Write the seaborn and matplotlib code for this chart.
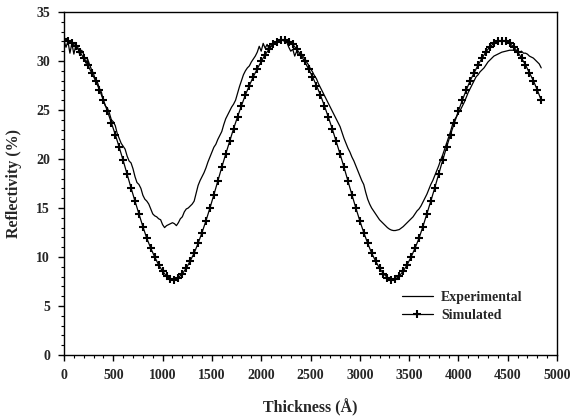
import matplotlib
matplotlib.use("Agg")
import matplotlib.pyplot as plt
import pandas as pd
import seaborn as sns
from matplotlib.ticker import MultipleLocator

# ---------------- data ----------------
exp_thickness = list(range(0, 4841, 20))  # measurement grid, Å
exp_reflectivity = [
    32.1, 31.4, 32.0, 30.8, 31.8, 30.7, 31.6, 31.4, 30.6, 31.1,
    30.7, 29.8, 30.2, 29.6, 29.1, 28.7, 28.0, 27.8, 27.2, 26.8,
    25.9, 25.4, 25.2, 24.7, 24.0, 23.8, 23.4, 22.6, 22.1, 21.6,
    21.3, 21.0, 20.3, 19.8, 19.6, 19.0, 18.2, 17.6, 17.4, 17.0,
    16.3, 15.9, 15.7, 15.4, 14.9, 14.4, 14.2, 14.1, 13.9, 13.8,
    13.3, 13.0, 13.2, 13.3, 13.4, 13.5, 13.4, 13.2, 13.5, 13.9,
    14.1, 14.6, 14.9, 15.0, 15.2, 15.4, 15.7, 16.5, 17.3, 17.8,
    18.2, 18.6, 19.1, 19.7, 20.2, 20.7, 21.2, 21.5, 22.0, 22.4,
    22.8, 23.5, 24.1, 24.5, 24.9, 25.3, 25.6, 26.0, 26.7, 27.4,
    28.0, 28.6, 29.0, 29.3, 29.5, 29.9, 30.2, 30.5, 30.9, 31.5,
    31.0, 31.8, 31.3, 31.7, 31.2, 31.6, 31.8, 31.9, 32.0, 32.1,
    32.2, 32.1, 32.0, 31.9, 31.4, 31.0, 31.2, 30.5, 31.0, 30.6,
    30.9, 30.5, 30.3, 29.9, 29.6, 29.2, 28.9, 28.5, 28.2, 27.7,
    27.3, 26.9, 26.5, 26.1, 25.7, 25.3, 24.9, 24.5, 24.1, 23.7,
    23.3, 22.7, 22.1, 21.6, 21.1, 20.7, 20.2, 19.8, 19.3, 18.8,
    18.3, 17.8, 17.4, 16.6, 15.9, 15.4, 15.0, 14.7, 14.4, 14.1,
    13.8, 13.6, 13.4, 13.2, 13.0, 12.85, 12.75, 12.7, 12.7, 12.75,
    12.8, 12.95, 13.1, 13.3, 13.5, 13.7, 13.9, 14.1, 14.4, 14.7,
    14.9, 15.2, 15.6, 16.0, 16.4, 16.9, 17.4, 17.8, 18.3, 18.8,
    19.3, 19.9, 20.4, 21.0, 21.6, 22.2, 22.8, 23.5, 24.0, 24.3,
    24.7, 25.0, 25.4, 25.8, 26.3, 26.8, 27.2, 27.6, 28.0, 28.4,
    28.6, 28.9, 29.1, 29.3, 29.6, 29.9, 30.1, 30.3, 30.5, 30.6,
    30.7, 30.8, 30.9, 30.95, 31.0, 31.05, 31.1, 31.1, 31.1, 31.05,
    31.0, 30.9, 31.0, 30.8, 30.8, 30.7, 30.5, 30.4, 30.3, 30.1,
    29.9, 29.7, 29.3,
]

sim_thickness = list(range(0, 4841, 40))  # simulation grid, Å
sim_reflectivity = [
    32.2, 32.05, 31.85, 31.5, 30.95, 30.3, 29.6, 28.8, 28.0, 27.05,
    26.0, 24.9, 23.7, 22.5, 21.2, 19.85, 18.45, 17.05, 15.7, 14.4,
    13.1, 11.9, 10.9, 10.0, 9.2, 8.55, 8.05, 7.75,
    7.66, 7.9, 8.3, 8.85, 9.6, 10.4, 11.4, 12.5, 13.7, 15.0,
    16.35, 17.75, 19.15, 20.5, 21.8, 23.1, 24.3, 25.45, 26.55, 27.5,
    28.4, 29.2, 29.95, 30.65, 31.2, 31.7, 31.95, 32.15,
    32.15, 31.95, 31.7, 31.2, 30.65, 29.95, 29.2, 28.4, 27.5, 26.55,
    25.45, 24.3, 23.1, 21.8, 20.5, 19.15, 17.75, 16.35, 15.0, 13.7,
    12.5, 11.4, 10.4, 9.6, 8.85, 8.3, 7.9, 7.66,
    7.75, 8.05, 8.55, 9.2, 10.0, 10.9, 11.9, 13.1, 14.4, 15.7,
    17.05, 18.45, 19.85, 21.2, 22.5, 23.7, 24.9, 26.0, 27.05, 28.0,
    28.8, 29.6, 30.3, 30.95, 31.45, 31.8, 32.0, 32.05,
    32.0, 31.8, 31.45, 30.95, 30.3, 29.6, 28.8, 28.0, 27.05, 26.0,
]

series_labels = ["Experimental", "Simulated"]
x_label = "Thickness (Å)"
y_label = "Reflectivity (%)"

exp_df = pd.DataFrame({"Thickness": exp_thickness, "Reflectivity": exp_reflectivity})
sim_df = pd.DataFrame({"Thickness": sim_thickness, "Reflectivity": sim_reflectivity})

# ---------------- style ----------------
sns.set_style("ticks")
plt.rcParams["font.family"] = ["Liberation Serif", "DejaVu Serif"]
plt.rcParams["font.weight"] = "bold"
plt.rcParams["axes.labelweight"] = "bold"

fig = plt.figure(figsize=(5.7, 4.17), dpi=100)
ax = fig.add_axes([64 / 570, 1 - 355 / 417, 493 / 570, 343 / 417])

sns.lineplot(data=exp_df, x="Thickness", y="Reflectivity", ax=ax, color="black",
             linewidth=0.9, label=series_labels[0], estimator=None)
sns.lineplot(data=sim_df, x="Thickness", y="Reflectivity", ax=ax, color="black",
             linewidth=0.9, marker="+", markersize=5.5, markeredgewidth=1.5,
             markeredgecolor="black", label=series_labels[1], estimator=None)

ax.set_xlim(0, 5000)
ax.set_ylim(0, 35)
ax.xaxis.set_major_locator(MultipleLocator(500))
ax.xaxis.set_minor_locator(MultipleLocator(100))
ax.yaxis.set_major_locator(MultipleLocator(5))
ax.yaxis.set_minor_locator(MultipleLocator(1))

ax.tick_params(which="major", length=4, width=1, direction="out", color="black",
               labelsize=10, top=False, right=False)
ax.tick_params(which="minor", length=2.5, width=0.8, direction="out", color="black",
               top=False, right=False)
ax.tick_params(axis="x", which="major", pad=6)
ax.tick_params(axis="y", which="major", pad=6)
for lab in ax.get_xticklabels() + ax.get_yticklabels():
    lab.set_fontweight("bold")

for sp in ax.spines.values():
    sp.set_visible(True)
    sp.set_color("black")
    sp.set_linewidth(1.0)

ax.set_xlabel(x_label, fontsize=11.5, fontweight="bold", labelpad=12)
ax.set_ylabel(y_label, fontsize=11.5, fontweight="bold", labelpad=10)

leg = ax.legend(loc="upper left", bbox_to_anchor=((402 - 64) / 493, (355 - 291) / 343),
                frameon=False, fontsize=10, handlelength=2.2, handletextpad=0.6,
                borderpad=0, borderaxespad=0, labelspacing=0.35)
for t in leg.get_texts():
    t.set_fontweight("bold")

fig.savefig("out.png", dpi=100)
